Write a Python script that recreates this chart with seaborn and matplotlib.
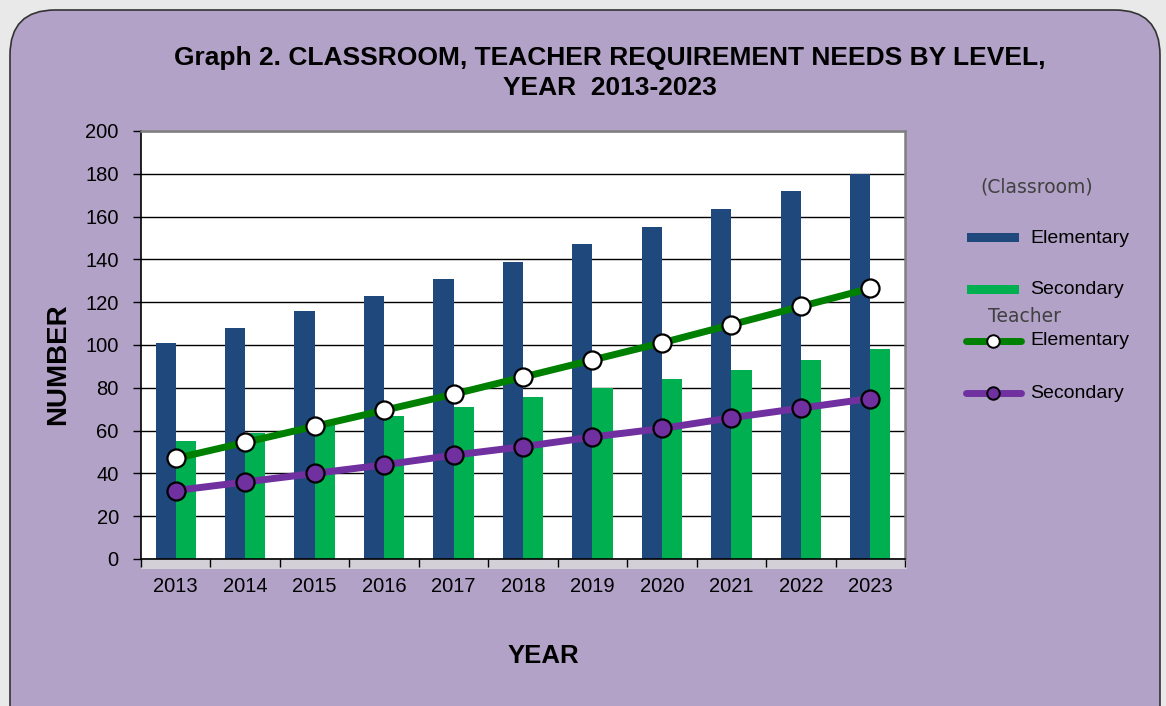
import numpy as np
import pandas as pd
import matplotlib.pyplot as plt
import seaborn as sns
from matplotlib.patches import FancyBboxPatch, Rectangle
from matplotlib.lines import Line2D
from matplotlib.ticker import FixedLocator, MultipleLocator

# ---- data ----
years = [2013, 2014, 2015, 2016, 2017, 2018, 2019, 2020, 2021, 2022, 2023]
classroom_elem = [101, 108, 116, 123, 131, 139, 147, 155, 163.5, 172, 180]
classroom_sec = [55, 59, 62.5, 67, 71, 75.5, 80, 84, 88.5, 93, 98]
teacher_elem = [47, 54.5, 62, 69.5, 77, 85, 93, 101, 109.5, 118, 126.5]
teacher_sec = [32, 36, 40, 44, 48.5, 52.5, 57, 61, 66, 70.5, 75]

# ---- colours ----
BG_PURPLE = "#b2a2c7"
BAR_BLUE = "#1f497d"
BAR_GREEN = "#00b050"
LINE_GREEN = "#008000"
LINE_PURPLE = "#7030a0"

bars = pd.DataFrame({
    "year": [str(y) for y in years] * 2,
    "value": classroom_elem + classroom_sec,
    "level": ["Elementary"] * len(years) + ["Secondary"] * len(years),
})
pos = np.arange(len(years))

sns.set_theme(style="white")
plt.rcParams["font.family"] = ["Liberation Sans", "DejaVu Sans"]
plt.rcParams["text.color"] = "black"
plt.rcParams["xtick.color"] = "black"
plt.rcParams["ytick.color"] = "black"

fig = plt.figure(figsize=(11.66, 7.06), dpi=100)
fig.patch.set_facecolor("#e9e9e9")

# rounded purple panel behind everything
panel = FancyBboxPatch(
    (0.10, -0.5), 11.5, 7.46,
    boxstyle="round,pad=0,rounding_size=0.45",
    transform=fig.dpi_scale_trans,
    facecolor=BG_PURPLE, edgecolor="#333333", linewidth=1.2, zorder=-10,
)
fig.add_artist(panel)

# soft shadow under the plot area
fig.add_artist(Rectangle((141 / 1166, 1 - 569 / 706), 766 / 1166, 10 / 706,
                         transform=fig.transFigure, facecolor="#d4d0d8",
                         edgecolor="none", zorder=-5))

ax = fig.add_axes([141 / 1166, 1 - 559 / 706, 764 / 1166, 428 / 706])
ax.set_facecolor("white")

sns.barplot(
    data=bars, x="year", y="value", hue="level",
    palette=[BAR_BLUE, BAR_GREEN], width=0.58, gap=0,
    legend=False, ax=ax, zorder=2, saturation=1, linewidth=0,
)

sns.lineplot(
    x=pos, y=teacher_elem, ax=ax, color=LINE_GREEN, linewidth=5,
    marker="o", markersize=13, markerfacecolor="white",
    markeredgecolor="black", markeredgewidth=1.6, zorder=4,
)
sns.lineplot(
    x=pos, y=teacher_sec, ax=ax, color=LINE_PURPLE, linewidth=5,
    marker="o", markersize=13, markerfacecolor=LINE_PURPLE,
    markeredgecolor="black", markeredgewidth=1.6, zorder=4,
)

# axes styling
ax.set_xlim(-0.5, len(years) - 0.5)
ax.set_ylim(0, 200)
ax.yaxis.set_major_locator(MultipleLocator(20))
ax.grid(axis="y", color="black", linewidth=1.0, zorder=1)
ax.set_axisbelow(True)

ax.xaxis.set_major_locator(FixedLocator(pos))
ax.set_xticklabels([str(y) for y in years])
ax.xaxis.set_minor_locator(FixedLocator(np.arange(-0.5, len(years), 1.0)))
ax.tick_params(axis="x", which="major", length=0, labelsize=14.5, pad=13)
ax.tick_params(axis="x", which="minor", length=6, width=1, direction="out", bottom=True)
ax.tick_params(axis="y", which="major", length=6, width=1, direction="out", labelsize=14.5,
               pad=10, left=True)

for side in ["top", "right"]:
    ax.spines[side].set_color("#808080")
    ax.spines[side].set_linewidth(1.8)
for side in ["left", "bottom"]:
    ax.spines[side].set_color("black")
    ax.spines[side].set_linewidth(1.2)

ax.set_xlabel("")
ax.set_ylabel("")

# titles and axis labels
fig.text(610 / 1166, 1 - 73 / 706,
         "Graph 2. CLASSROOM, TEACHER REQUIREMENT NEEDS BY LEVEL,\nYEAR  2013-2023",
         ha="center", va="center", fontsize=19, fontweight="bold", linespacing=1.35)
fig.text(58 / 1166, 1 - 364 / 706, "NUMBER", rotation=90, ha="center", va="center",
         fontsize=20, fontweight="bold")
fig.text(543 / 1166, 1 - 656 / 706, "YEAR", ha="center", va="center",
         fontsize=18.5, fontweight="bold")

# hand-built legend on the right
def fx(px):
    return px / 1166

def fy(py):
    return 1 - py / 706

fig.text(fx(1037), fy(187), "(Classroom)", ha="center", va="center",
         fontsize=13.5, color="#404040", family="DejaVu Sans")
fig.add_artist(Rectangle((fx(967), fy(242)), fx(52), 9 / 706, transform=fig.transFigure,
                         facecolor=BAR_BLUE, edgecolor="none"))
fig.text(fx(1030), fy(238), "Elementary", ha="left", va="center", fontsize=14)
fig.add_artist(Rectangle((fx(967), fy(294)), fx(52), 9 / 706, transform=fig.transFigure,
                         facecolor=BAR_GREEN, edgecolor="none"))
fig.text(fx(1030), fy(290), "Secondary", ha="left", va="center", fontsize=14)
fig.text(fx(1024), fy(317), "Teacher", ha="center", va="center",
         fontsize=13.5, color="#404040", family="DejaVu Sans")
fig.add_artist(Line2D([fx(966), fx(1021)], [fy(341), fy(341)], transform=fig.transFigure,
                      color=LINE_GREEN, linewidth=5, solid_capstyle="round"))
fig.add_artist(Line2D([fx(993)], [fy(341)], transform=fig.transFigure, marker="o",
                      markersize=9, markerfacecolor="white", markeredgecolor="black",
                      markeredgewidth=1.4))
fig.text(fx(1030), fy(341), "Elementary", ha="left", va="center", fontsize=14)
fig.add_artist(Line2D([fx(966), fx(1021)], [fy(393), fy(393)], transform=fig.transFigure,
                      color=LINE_PURPLE, linewidth=5, solid_capstyle="round"))
fig.add_artist(Line2D([fx(993)], [fy(393)], transform=fig.transFigure, marker="o",
                      markersize=9, markerfacecolor=LINE_PURPLE, markeredgecolor="black",
                      markeredgewidth=1.4))
fig.text(fx(1030), fy(393), "Secondary", ha="left", va="center", fontsize=14)

fig.savefig("out.png", dpi=100, facecolor=fig.get_facecolor())
